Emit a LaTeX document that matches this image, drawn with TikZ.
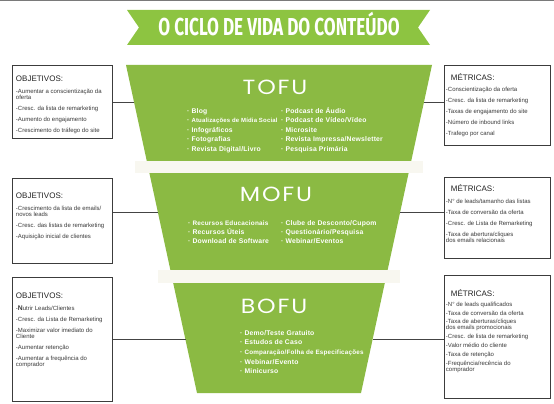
\documentclass[tikz,border=0pt]{standalone}
\usepackage{fontspec}
\setmainfont{Liberation Sans}
\newfontfamily\stagefont{Poppins}[LetterSpace=8]
\newfontfamily\bannerfont{Fira Sans}
\newfontfamily\itemfont{Liberation Sans}[LetterSpace=3]
\usetikzlibrary{calc}

\definecolor{funnelgreen}{HTML}{8BBA43}
\definecolor{bannergreen}{HTML}{8DC441}
\definecolor{bandcream}{HTML}{F8F7F0}
\definecolor{rulegray}{HTML}{7A7A7A}
\definecolor{boxline}{HTML}{3C3C3C}
\definecolor{boxtext}{HTML}{3A3A3A}
\definecolor{boxhead}{HTML}{222222}
\definecolor{linkgray}{HTML}{444444}

\newlength{\itmgap}
\setlength{\itmgap}{5pt}
\newcommand{\boxhead}[2]{{\fontsize{8}{8}\selectfont\color{boxhead}\hspace*{#1}\rule{0pt}{8pt}#2\par}\vspace{0.8pt}}
\newcommand{\itm}[1]{\par\vspace{\itmgap}#1}
\newcommand{\infobody}[4]{%
  \begin{minipage}[t][#2][t]{#1}\vspace*{#3}\fontsize{6}{6}\selectfont\raggedright\color{boxtext}#4\end{minipage}}

\begin{document}
\begin{tikzpicture}[x=1pt, y=-1pt,
    leftbox/.style={draw=boxline, line width=0.9pt, fill=white, anchor=north west, inner xsep=3.5pt, inner ysep=0pt},
    rightbox/.style={draw=boxline, line width=0.9pt, fill=white, anchor=north west, inner xsep=1.5pt, inner ysep=0pt},
    link/.style={draw=linkgray, line width=0.8pt},
    funnelitem/.style={anchor=base west, inner sep=0pt, text=white, font=\itemfont\fontsize{6.8}{7}\selectfont\bfseries},
    stagetitle/.style={anchor=base, inner sep=0pt, text=white, font=\stagefont\fontsize{20.5}{20.5}\selectfont, xscale=1.15, transform shape},
    bannertitle/.style={anchor=base, inner sep=0pt, text=white, font=\bannerfont\bfseries\fontsize{24.5}{24.5}\selectfont, xscale=0.7, transform shape}]
    \useasboundingbox (0,0) rectangle (554,404);

    % Top rule and title ribbon
    \draw[rulegray, line width=1.5pt] (0,0.75) -- (554,0.75);
    \fill[bannergreen] (127,10) -- (430,10) -- (418,27.5) -- (430,45) -- (127,45) -- (139,27.5) -- cycle;
    \node[bannertitle] (title) at (279,36) {O CICLO DE VIDA DO CONTEÚDO};

    % Funnel with its two light bands
    \coordinate (fTL) at (126,65);
    \coordinate (fTR) at (432,65);
    \coordinate (fBR) at (361,393);
    \coordinate (fBL) at (197,393);
    \fill[funnelgreen] (fTL) -- (fTR) -- (fBR) -- (fBL) -- cycle;
    \fill[bandcream] (135,161) rectangle (423,173);
    \fill[bandcream] (158,270) rectangle (400,283);

    % Points on the funnel sides where the boxes join
    \coordinate (tofuL) at ($(fTL)!0.113!(fBL)$);
    \coordinate (tofuR) at ($(fTR)!0.113!(fBR)$);
    \coordinate (mofuL) at ($(fTL)!0.448!(fBL)$);
    \coordinate (mofuR) at ($(fTR)!0.448!(fBR)$);
    \coordinate (bofuL) at ($(fTL)!0.838!(fBL)$);
    \coordinate (bofuR) at ($(fTR)!0.838!(fBR)$);

    % Stage titles
    \node[stagetitle] (tofu) at (275,94) {TOFU};
    \node[stagetitle] (mofu) at (276,201) {MOFU};
    \node[stagetitle] (bofu) at (274,313) {BOFU};

    % Stage contents
    \foreach \lbl [count=\i from 0] in {Blog, {\fontsize{6}{7}\selectfont Atualizações de Mídia Social}, Infográficos, Fotografias, Revista Digital/Livro} {
        \node[funnelitem] (tofuA\i) at (187,113+9.5*\i) {· \lbl};
    }
    \foreach \lbl [count=\i from 0] in {Podcast de Áudio, Podcast de Vídeo/Vídeo, Microsite, Revista Impressa/Newsletter, Pesquisa Primária} {
        \node[funnelitem] (tofuB\i) at (281,113+9.5*\i) {· \lbl};
    }
    \foreach \lbl [count=\i from 0] in {{\fontsize{6.4}{7}\selectfont Recursos Educacionais}, Recursos Úteis, Download de Software} {
        \node[funnelitem] (mofuA\i) at (188,225+9*\i) {· \lbl};
    }
    \foreach \lbl [count=\i from 0] in {Clube de Desconto/Cupom, Questionário/Pesquisa, Webinar/Eventos} {
        \node[funnelitem] (mofuB\i) at (281,225+9*\i) {· \lbl};
    }
    \foreach \lbl [count=\i from 0] in {Demo/Teste Gratuito, Estudos de Caso, {\fontsize{6.3}{7}\selectfont Comparação/Folha de Especificações}, Webinar/Evento, Minicurso} {
        \node[funnelitem] (bofuA\i) at (240,335+9.7*\i) {· \lbl};
    }

    % Objectives (left)
    \node[leftbox] (obj1) at (12,65) {\infobody{93pt}{73pt}{7.9pt}{%
        \boxhead{0pt}{OBJETIVOS:}
        \itm{-Aumentar a conscientização da\\oferta}
        \itm{-Cresc. da lista de remarketing}
        \itm{-Aumento do engajamento}
        \itm{-Crescimento do tráfego do site}}};
    \node[leftbox] (obj2) at (12,178) {\infobody{93pt}{85pt}{11.9pt}{%
        \boxhead{0pt}{OBJETIVOS:}
        \itm{-Crescimento da lista de emails/\\novos leads}
        \itm{-Cresc. das listas de remarketing}
        \itm{-Aquisição inicial de clientes}}};
    \node[leftbox] (obj3) at (12,277) {\infobody{93pt}{124pt}{12.9pt}{%
        \boxhead{0pt}{OBJETIVOS:}
        \itm{-{\fontsize{6.8}{6}\selectfont\bfseries N}utrir Leads/Clientes}
        \itm{-Cresc. da Lista de Remarketing}
        \itm{-Maximizar valor imediato do\\Cliente}
        \itm{-Aumentar retenção}
        \itm{-Aumentar a frequência do\\comprador}}};

    % Metrics (right)
    \node[rightbox] (met1) at (444,65) {\infobody{103pt}{80pt}{6.6pt}{%
        \boxhead{5pt}{MÉTRICAS:}
        \itm{-Conscientização da oferta}
        \itm{-Cresc. da lista de remarketing}
        \itm{-Taxas de engajamento do site}
        \itm{-Número de inbound links}
        \itm{-Trafego por canal}}};
    \node[rightbox] (met2) at (444,177) {\infobody{103pt}{81pt}{6.2pt}{%
        \boxhead{5pt}{MÉTRICAS:}
        \itm{-N° de leads/tamanho das listas}
        \itm{-Taxa de conversão da oferta}
        \itm{-Cresc. de Lista de Remarketing}
        \itm{-Taxa de abertura/cliques\\dos emails relacionais}}};
    \node[rightbox] (met3) at (444,275) {\infobody{103pt}{123pt}{13.2pt}{%
        \setlength{\itmgap}{2.8pt}%
        \boxhead{5pt}{MÉTRICAS:}
        \itm{-N° de leads qualificados}
        \itm{-Taxa de conversão da oferta}
        \itm{-Taxa de aberturas/cliques\\dos emails promocionais}
        \itm{-Cresc. de lista de remarketing}
        \itm{-Valor médio do cliente}
        \itm{-Taxa de retenção}
        \itm{-Frequência/recência do\\comprador}}};

    % Connectors
    \draw[link] (obj1.east |- tofuL) -- (tofuL);
    \draw[link] (obj2.east |- mofuL) -- (mofuL);
    \draw[link] (obj3.east |- bofuL) -- (bofuL);
    \draw[link] (met1.west |- tofuR) -- (tofuR);
    \draw[link] (met2.west |- mofuR) -- (mofuR);
    \draw[link] (met3.west |- bofuR) -- (bofuR);
\end{tikzpicture}
\end{document}
